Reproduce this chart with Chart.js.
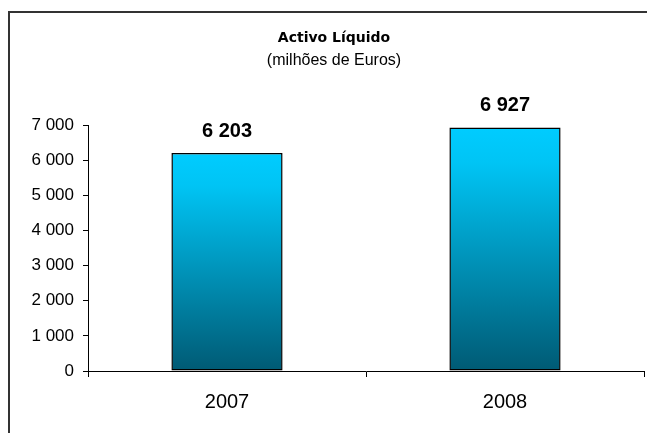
<!DOCTYPE html>
<html lang="pt">
<head>
<meta charset="utf-8">
<title>Activo Líquido</title>
<script src="https://cdn.jsdelivr.net/npm/chart.js@4/dist/chart.umd.min.js"></script>
<style>
  html, body { margin: 0; padding: 0; background: #fff; }
  canvas { display: block; }
</style>
</head>
<body>
<canvas id="chart" width="647" height="433"></canvas>
<script>
// years and net assets, millions of euros
const years = ["2007", "2008"];
const activoLiquido = [6203, 6927];
const yMax = 7000;
const yStep = 1000;

const titleText = "Activo Líquido";
const subtitleText = "(milhões de Euros)";

// "6 203" style: space as the thousands separator
function fmt(n) {
  return String(Math.round(n)).replace(/\B(?=(\d{3})+(?!\d))/g, " ");
}

// frame + titles, drawn by hand so they sit where they should
const frameAndTitles = {
  id: "frameAndTitles",
  beforeDraw(chart) {
    const c = chart.ctx;
    c.save();
    c.fillStyle = "#fff";
    c.fillRect(0, 0, chart.width, chart.height);
    c.strokeStyle = "#333";
    c.lineWidth = 2;
    c.beginPath();
    c.moveTo(9, chart.height + 2);
    c.lineTo(9, 12);
    c.lineTo(chart.width + 2, 12);
    c.stroke();
    c.restore();
  },
  afterDraw(chart) {
    const c = chart.ctx;
    c.save();
    c.fillStyle = "#000";
    c.textAlign = "center";
    c.textBaseline = "middle";
    c.font = "bold 14px 'DejaVu Sans'";
    c.fillText(titleText, 334, 38);
    c.font = "16px 'Liberation Sans'";
    c.fillText(subtitleText, 334, 61);
    c.restore();
  }
};

// value labels above each bar
const barLabels = {
  id: "barLabels",
  afterDatasetsDraw(chart) {
    const c = chart.ctx;
    const meta = chart.getDatasetMeta(0);
    c.save();
    c.fillStyle = "#000";
    c.textAlign = "center";
    c.textBaseline = "middle";
    c.font = "bold 20px 'Liberation Sans'";
    meta.data.forEach((bar, i) => {
      c.fillText(fmt(activoLiquido[i]), bar.x, bar.y - 22);
    });
    c.restore();
  }
};

// cyan at the top fading to dark teal at the base
function barGradient(ctx) {
  const chart = ctx.chart;
  if (!chart.chartArea || !chart.scales.y) return "#00ccff";
  const y = chart.scales.y;
  const top = y.getPixelForValue(activoLiquido[ctx.dataIndex]);
  const base = y.getPixelForValue(0);
  const g = chart.ctx.createLinearGradient(0, top, 0, base);
  g.addColorStop(0, "#00ccff");
  g.addColorStop(0.15, "#00c4f4");
  g.addColorStop(1, "#005a74");
  return g;
}

new Chart(document.getElementById("chart"), {
  type: "bar",
  data: {
    labels: years,
    datasets: [{
      data: activoLiquido,
      backgroundColor: barGradient,
      borderColor: "#000",
      borderWidth: 1.5,
      borderSkipped: false,
      categoryPercentage: 0.4,
      barPercentage: 1
    }]
  },
  options: {
    responsive: false,
    animation: false,
    devicePixelRatio: 1,
    layout: { padding: { top: 125, right: 3, left: 0, bottom: 6 } },
    plugins: {
      legend: { display: false },
      title: { display: false },
      tooltip: { enabled: false }
    },
    scales: {
      x: {
        offset: true,
        grid: {
          offset: true,
          drawOnChartArea: false,
          drawTicks: true,
          tickLength: 6,
          color: "#000"
        },
        border: { color: "#000", width: 1 },
        ticks: {
          color: "#000",
          padding: 13,
          font: { family: "'Liberation Sans'", size: 20 }
        }
      },
      y: {
        min: 0,
        max: yMax,
        afterFit(scale) { scale.width = 88; },
        grid: {
          drawOnChartArea: false,
          drawTicks: true,
          tickLength: 5,
          color: "#000"
        },
        border: { color: "#000", width: 1 },
        ticks: {
          stepSize: yStep,
          color: "#000",
          padding: 9,
          font: { family: "'Liberation Sans'", size: 17 },
          callback: v => fmt(v)
        }
      }
    }
  },
  plugins: [frameAndTitles, barLabels]
});
</script>
</body>
</html>
